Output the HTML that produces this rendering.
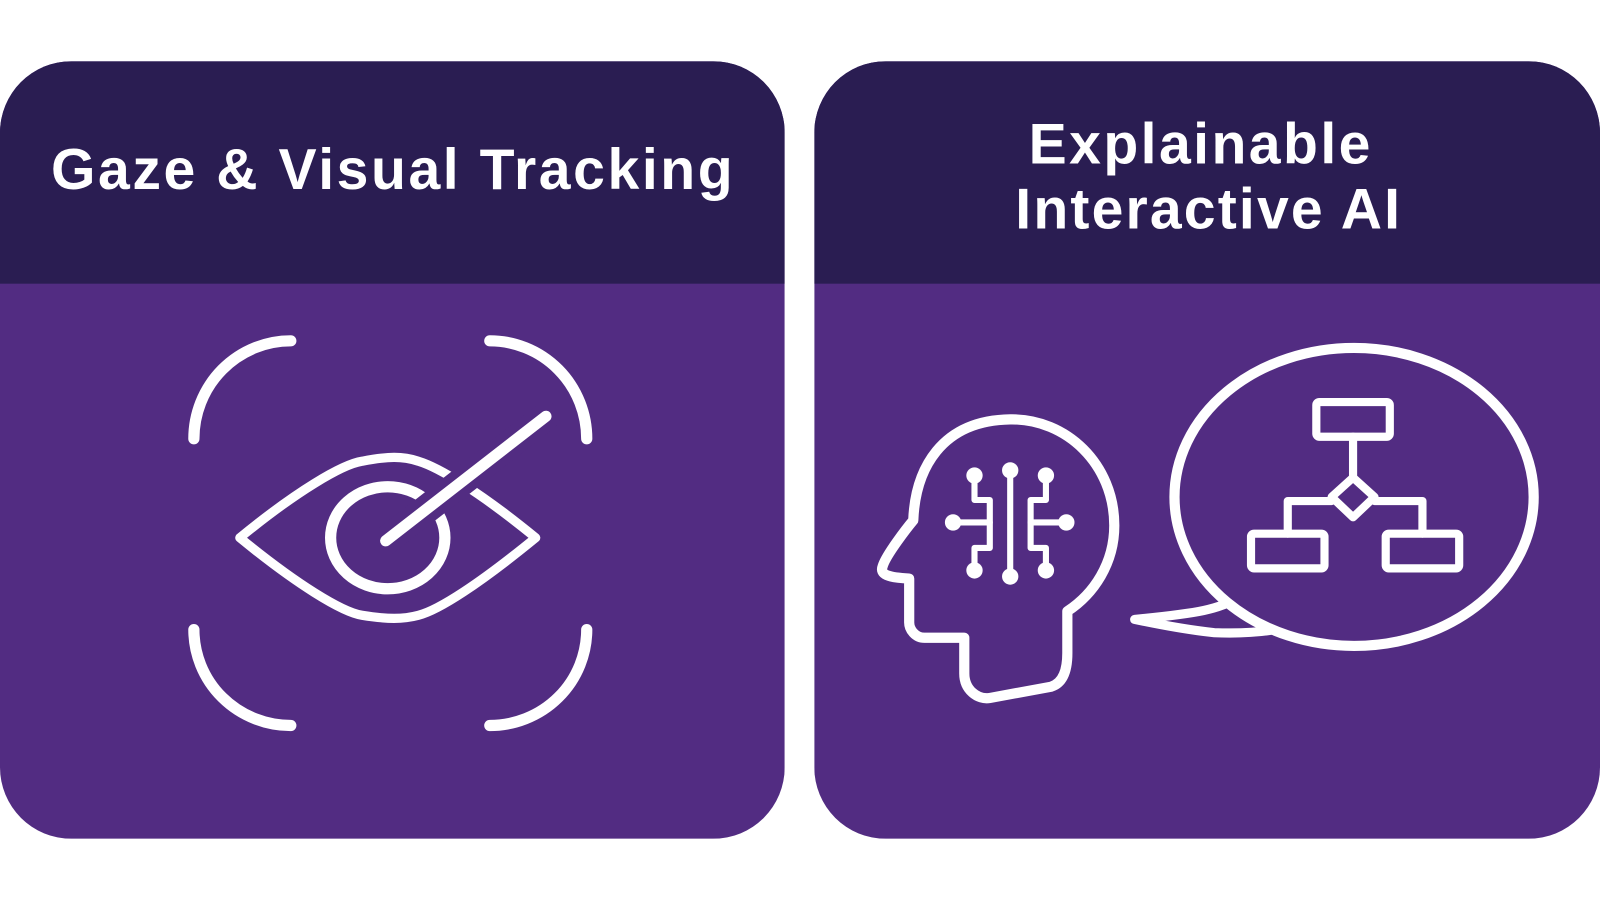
<!DOCTYPE html>
<html><head><meta charset="utf-8"><style>
html,body{margin:0;padding:0;background:#fff;width:1600px;height:900px;overflow:hidden}
svg{display:block}
</style></head><body>
<svg width="1600" height="900" viewBox="0 0 1568 882" xmlns="http://www.w3.org/2000/svg">
<defs>
<clipPath id="cl"><rect x="0" y="60" width="769" height="762" rx="70"/></clipPath>
<clipPath id="cr"><rect x="798" y="60" width="770" height="762" rx="70"/></clipPath>
</defs>
<g clip-path="url(#cl)"><rect x="0" y="60" width="769" height="762" fill="#522c82"/><rect x="0" y="60" width="769" height="218" fill="#2a1d52"/></g>
<g clip-path="url(#cr)"><rect x="798" y="60" width="770" height="762" fill="#522c82"/><rect x="798" y="60" width="770" height="218" fill="#2a1d52"/></g>
<g font-family="Liberation Sans, sans-serif" font-weight="bold" font-size="56" fill="#fff" lengthAdjust="spacing">
<text x="50" y="185" textLength="668" lengthAdjust="spacing">Gaze &amp; Visual Tracking</text>
<text x="1008" y="160" textLength="335" lengthAdjust="spacing">Explainable</text>
<text x="995" y="224" textLength="377" lengthAdjust="spacing">Interactive AI</text>
</g>
<g fill="none" stroke="#fff" stroke-width="11" stroke-linecap="round" stroke-linejoin="round">
<path d="M190 430 A95 96 0 0 1 285 334"/>
<path d="M480 334 A95 96 0 0 1 575 430"/>
<path d="M190 617 A95 94 0 0 0 285 711"/>
<path d="M480 711 A95 94 0 0 0 575 617"/>
<path stroke-width="9" d="M235 527 C290 482 335 455 355 452 C380 447 395 447 410 452 C430 458 470 482 525 527 C470 572 430 598 410 603 C395 607 380 607 355 603 C335 600 290 572 235 527 Z"/>
<ellipse cx="380" cy="527" rx="56" ry="50" stroke-width="11"/>
<line x1="378" y1="530" x2="535" y2="408" stroke="#522c82" stroke-width="28"/>
<line x1="378" y1="530" x2="535" y2="408" stroke-width="11"/>
<!-- head -->
<path stroke-width="10" d="M895 510 C897 460 922 412 990 411 C1045 410 1092 455 1092 515 C1092 552 1072 582 1046 599 L1046 640 C1046 660 1040 670 1030 673 L970 684 C958 686 945 676 945 660 L945 625 L906 625 C897 625 891 617 891 610 L891 567 C870 566 862 563 865 555 C868 544 890 516 895 510 Z"/>
<g stroke-width="6">
<path d="M990 463 V565"/>
<path d="M955 467 V490 H970 V537 H955 V558"/>
<path d="M1025 467 V490 H1010 V537 H1025 V558"/>
<path d="M934 512 H970"/><path d="M1010 512 H1045"/>
</g>
<g fill="#fff" stroke="none">
<circle cx="990" cy="461" r="8"/><circle cx="990" cy="565" r="8"/>
<circle cx="955" cy="466" r="8"/><circle cx="1025" cy="466" r="8"/>
<circle cx="955" cy="559" r="8"/><circle cx="1025" cy="559" r="8"/>
<circle cx="934" cy="512" r="8"/><circle cx="1045" cy="512" r="8"/>
</g>
<!-- bubble -->
<path stroke-width="9" d="M1215 585 C1195 597 1175 601 1112 607 C1150 615 1170 618 1190 620 C1215 621 1240 620 1265 614"/>
<ellipse cx="1327" cy="487" rx="176" ry="146" stroke-width="10" fill="#522c82"/>
<g stroke-width="8">
<rect x="1290" y="394" width="72" height="34" rx="3"/>
<rect x="1226" y="523" width="72" height="34" rx="3"/>
<rect x="1358" y="523" width="72" height="34" rx="3"/>
<path d="M1326 428 V468 L1305 487 L1326 507 L1347 487 L1326 468"/>
<path d="M1305 491 H1262 V523"/>
<path d="M1347 491 H1394 V523"/>
</g>
</g>
</svg>
</body></html>
